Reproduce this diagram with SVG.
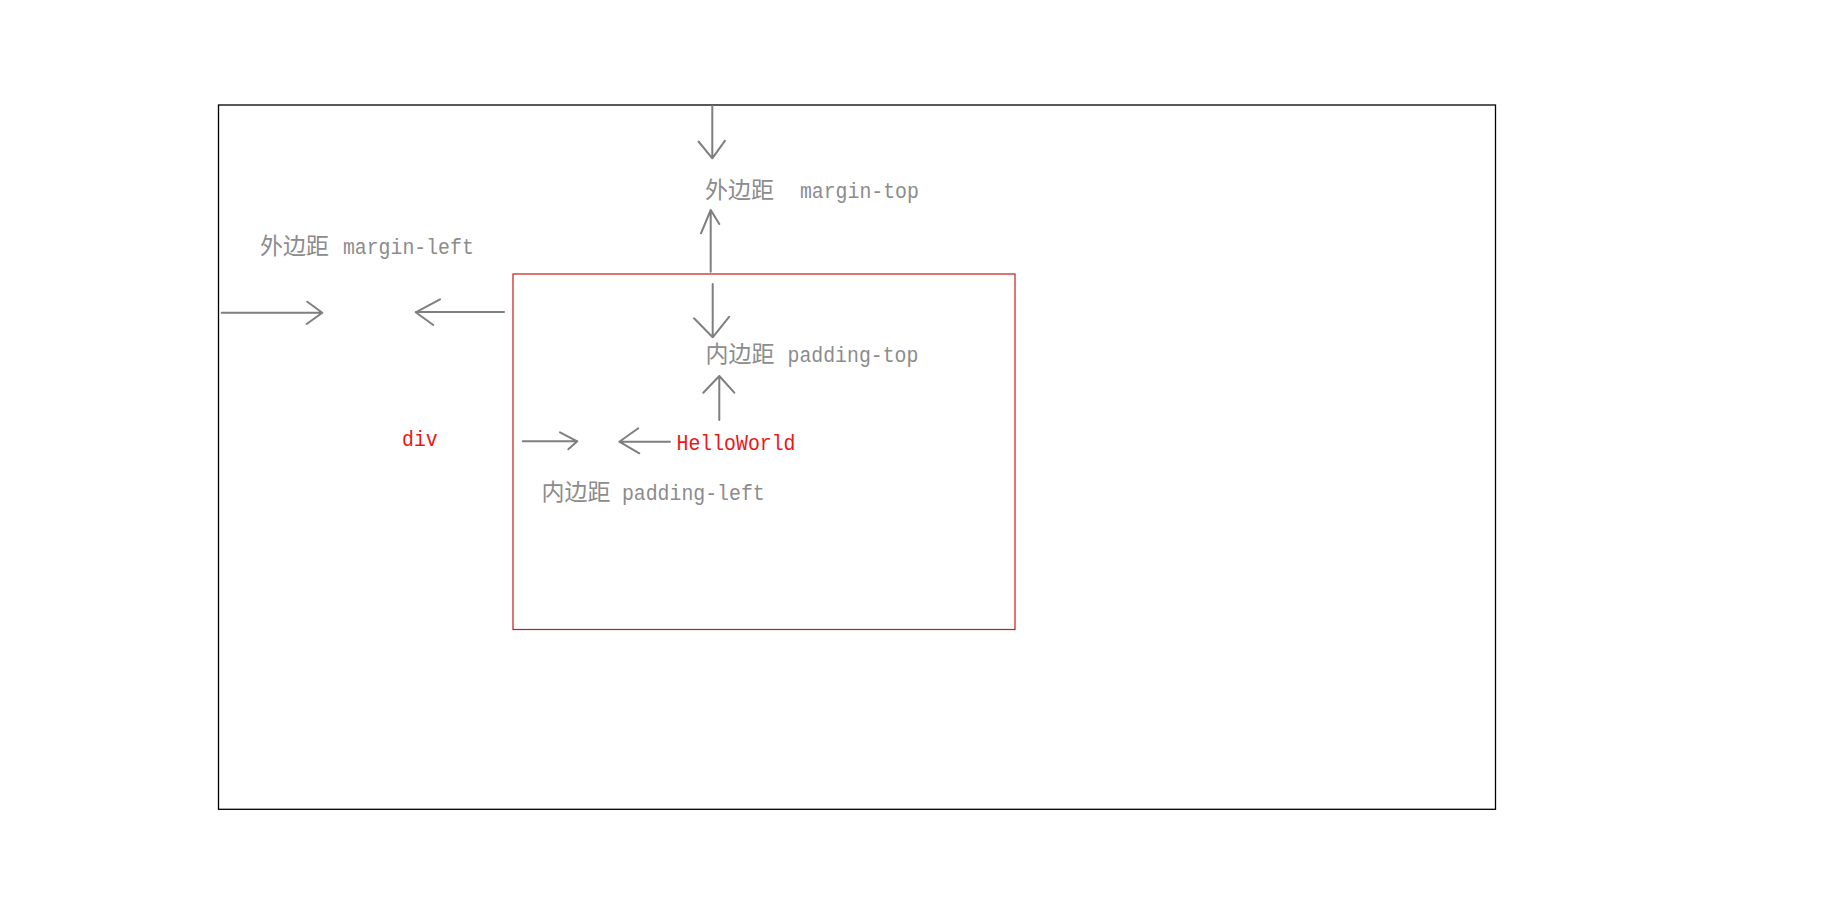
<svg xmlns="http://www.w3.org/2000/svg" width="1848" height="912" viewBox="0 0 1848 912">
<style>
.frame{fill:none;stroke:#000;stroke-width:1.3}
.box{fill:none;stroke:#c81818;stroke-width:1.2}
.arr{fill:none;stroke:#7f7f7f;stroke-width:2;stroke-linecap:round;stroke-linejoin:round}
.g{fill:#8c8c8c}
.r{fill:#e81818}
.cjk{font-family:"Noto Sans CJK SC","Noto Sans CJK JP",sans-serif;font-size:23px}
.lat{font-family:"Liberation Mono","DejaVu Sans Mono",monospace;font-size:22px}
</style>
<rect width="1848" height="912" fill="#fff"/>
<g id="outer">
<rect class="frame" x="218.5" y="105" width="1277" height="704.3"/>
</g>
<g id="div-box">
<rect class="box" x="513" y="274" width="502" height="355.5"/>
</g>
<g id="connectors">
<path class="arr" d="M712.3,106 V158.3 M698.5,141.5 L712.3,158.3 L725,140.7"/>
<path class="arr" d="M710.7,271.7 V210 M701,233.3 L710.7,210 L719.3,224"/>
<path class="arr" d="M712.7,284 V337.3 M694,318.3 L712.7,337.3 L729.3,316.7"/>
<path class="arr" d="M719.3,420 V376 M703.3,392.7 L719.3,376 L734.3,392.7"/>
<path class="arr" d="M221.7,312.7 H322.3 M307.3,301.7 L322.3,312.7 L306.7,324"/>
<path class="arr" d="M504,312 H415.7 M440,299.3 L415.7,312.3 L433.3,325"/>
<path class="arr" d="M522.7,441.3 H577.3 M560,432.3 L577.3,441.3 L568.3,449.3"/>
<path class="arr" d="M670,441.7 H619.3 M638.3,428.3 L619.3,441.7 L639.3,453.3"/>
</g>
<g id="label-margin-top">
<text class="g"><tspan class="cjk" x="705" y="198">外边距</tspan><tspan class="lat" x="788" y="198" textLength="130.9" lengthAdjust="spacingAndGlyphs"> margin-top</tspan></text>
</g>
<g id="label-margin-left">
<text class="g"><tspan class="cjk" x="260" y="254">外边距</tspan><tspan class="lat" x="331" y="254" textLength="142.8" lengthAdjust="spacingAndGlyphs"> margin-left</tspan></text>
</g>
<g id="label-padding-top">
<text class="g"><tspan class="cjk" x="705.5" y="362">内边距</tspan><tspan class="lat" x="775.6" y="362" textLength="142.8" lengthAdjust="spacingAndGlyphs"> padding-top</tspan></text>
</g>
<g id="label-padding-left">
<text class="g"><tspan class="cjk" x="541.4" y="500">内边距</tspan><tspan class="lat" x="610" y="500" textLength="154.7" lengthAdjust="spacingAndGlyphs"> padding-left</tspan></text>
</g>
<g id="label-div">
<text class="r lat" x="402" y="446" textLength="35.7" lengthAdjust="spacingAndGlyphs">div</text>
</g>
<g id="label-helloworld">
<text class="r lat" x="676.5" y="450" textLength="119" lengthAdjust="spacingAndGlyphs">HelloWorld</text>
</g>
</svg>
